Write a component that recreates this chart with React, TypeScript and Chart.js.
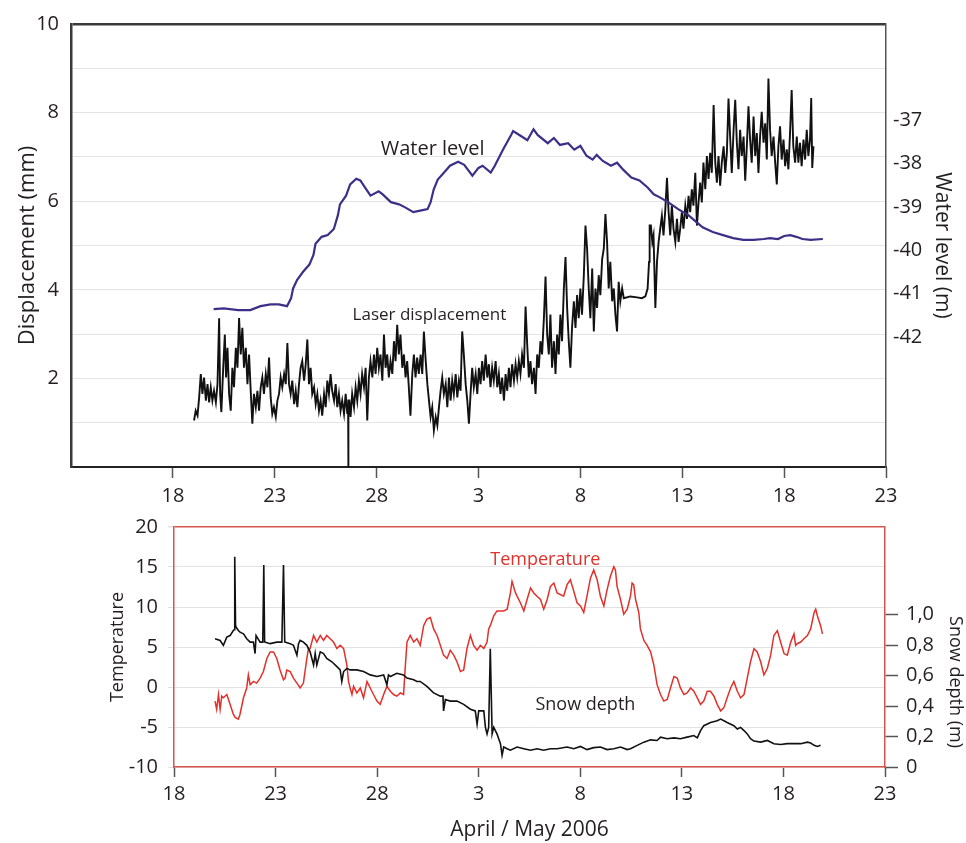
import React, { useEffect, useRef } from "react";
import { Chart, registerables } from "chart.js";

Chart.register(...registerables);

const FONT = "'Open Sans', 'Noto Sans', sans-serif";
const INK = "#231f20";
const FRAME_RED = "#d9534f";
const TEMP_RED = "#e2312b";
const WATER_BLUE = "#3b3088";

// x values are days counted from 0 April 2006 (1 May = 31)
const X_TICKS = [18, 23, 28, 33, 38, 43, 48, 53];
const X_TICK_LABELS = ["18", "23", "28", "3", "8", "13", "18", "23"];

const DISP_TICKS = [0, 1, 2, 3, 4, 5, 6, 7, 8, 9, 10];
const DISP_TICK_LABELS = ["", "", "2", "", "4", "", "6", "", "8", "", "10"];
const WL_TICKS = [-42, -41, -40, -39, -38, -37];
const WL_TICK_LABELS = ["-42", "-41", "-40", "-39", "-38", "-37"];
const TEMP_TICKS = [-10, -5, 0, 5, 10, 15, 20];
const TEMP_TICK_LABELS = ["-10", "-5", "0", "5", "10", "15", "20"];
const SNOW_TICKS = [0, 0.2, 0.4, 0.6, 0.8, 1.0];
const SNOW_TICK_LABELS = ["0", "0,2", "0,4", "0,6", "0,8", "1,0"];

// Water level (m)
const wlDays = [20.0, 20.5, 21.2, 21.8, 22.3, 22.8, 23.2, 23.6, 23.8, 23.9, 24.1, 24.4, 24.7, 24.9, 25.0, 25.3, 25.6, 25.9, 26.1, 26.2, 26.5, 26.7, 27.0, 27.2, 27.5, 27.7, 28.1, 28.3, 28.7, 29.1, 29.4, 29.8, 30.2, 30.5, 30.65, 30.8, 31.0, 31.3, 31.6, 32.0, 32.3, 32.7, 33.0, 33.2, 33.6, 33.8, 34.2, 34.6, 34.7, 35.1, 35.4, 35.7, 35.9, 36.4, 36.7, 37.0, 37.4, 37.7, 38.0, 38.3, 38.6, 38.8, 39.1, 39.5, 39.8, 40.1, 40.5, 40.9, 41.3, 41.6, 41.9, 42.3, 42.8, 43.3, 43.7, 44.0, 44.5, 45.0, 45.5, 46.0, 46.5, 47.0, 47.3, 47.7, 48.0, 48.3, 48.6, 48.9, 49.3, 49.9];
const wlLevel = [-41.36, -41.34, -41.38, -41.38, -41.29, -41.25, -41.25, -41.29, -41.11, -40.88, -40.68, -40.49, -40.33, -40.11, -39.85, -39.69, -39.65, -39.51, -39.19, -38.94, -38.74, -38.48, -38.35, -38.39, -38.6, -38.74, -38.64, -38.71, -38.89, -38.94, -39.01, -39.12, -39.08, -39.05, -38.89, -38.6, -38.37, -38.21, -38.05, -37.96, -38.03, -38.28, -38.1, -38.05, -38.21, -38.05, -37.68, -37.34, -37.25, -37.37, -37.46, -37.21, -37.34, -37.53, -37.41, -37.57, -37.53, -37.68, -37.59, -37.82, -37.91, -37.8, -37.94, -38.05, -37.98, -38.14, -38.32, -38.39, -38.55, -38.71, -38.78, -38.89, -39.05, -39.19, -39.35, -39.47, -39.58, -39.65, -39.72, -39.76, -39.76, -39.74, -39.72, -39.74, -39.67, -39.65, -39.69, -39.74, -39.76, -39.74];

// Laser displacement (mm)
const laserDays = [19.04, 19.12, 19.21, 19.29, 19.37, 19.45, 19.53, 19.62, 19.7, 19.78, 19.86, 19.94, 20.02, 20.11, 20.19, 20.27, 20.32, 20.38, 20.47, 20.55, 20.61, 20.68, 20.76, 20.84, 20.92, 21.0, 21.09, 21.17, 21.25, 21.33, 21.41, 21.49, 21.58, 21.66, 21.74, 21.82, 21.9, 21.98, 22.07, 22.15, 22.23, 22.31, 22.39, 22.47, 22.56, 22.64, 22.72, 22.8, 22.88, 22.96, 23.05, 23.13, 23.21, 23.29, 23.37, 23.46, 23.54, 23.62, 23.7, 23.78, 23.86, 23.95, 24.03, 24.11, 24.19, 24.27, 24.35, 24.44, 24.52, 24.6, 24.68, 24.76, 24.84, 24.93, 25.01, 25.09, 25.17, 25.25, 25.33, 25.42, 25.5, 25.58, 25.66, 25.74, 25.82, 25.91, 25.99, 26.07, 26.15, 26.23, 26.31, 26.4, 26.48, 26.56, 26.6, 26.61, 26.62, 26.66, 26.72, 26.8, 26.89, 26.97, 27.05, 27.13, 27.21, 27.29, 27.38, 27.46, 27.54, 27.62, 27.7, 27.79, 27.87, 27.95, 28.03, 28.11, 28.19, 28.28, 28.36, 28.44, 28.52, 28.6, 28.68, 28.77, 28.85, 28.93, 29.01, 29.09, 29.17, 29.26, 29.34, 29.42, 29.5, 29.58, 29.66, 29.75, 29.83, 29.91, 29.99, 30.07, 30.16, 30.24, 30.32, 30.41, 30.49, 30.57, 30.65, 30.73, 30.81, 30.9, 30.98, 31.06, 31.14, 31.22, 31.3, 31.39, 31.47, 31.55, 31.63, 31.71, 31.79, 31.88, 31.96, 32.04, 32.12, 32.2, 32.28, 32.37, 32.45, 32.53, 32.61, 32.69, 32.77, 32.86, 32.94, 33.02, 33.1, 33.18, 33.26, 33.35, 33.43, 33.51, 33.59, 33.67, 33.75, 33.84, 33.92, 34.0, 34.08, 34.16, 34.25, 34.33, 34.41, 34.49, 34.57, 34.65, 34.74, 34.82, 34.9, 34.98, 35.06, 35.14, 35.23, 35.31, 35.39, 35.47, 35.55, 35.63, 35.72, 35.8, 35.88, 35.96, 36.04, 36.12, 36.21, 36.29, 36.37, 36.45, 36.53, 36.61, 36.7, 36.78, 36.86, 36.94, 37.02, 37.1, 37.19, 37.27, 37.35, 37.43, 37.51, 37.59, 37.68, 37.76, 37.84, 37.92, 38.0, 38.08, 38.17, 38.25, 38.33, 38.41, 38.49, 38.58, 38.66, 38.74, 38.82, 38.9, 38.98, 39.07, 39.15, 39.23, 39.31, 39.39, 39.47, 39.56, 39.64, 39.72, 39.8, 39.88, 39.96, 40.05, 40.13, 40.45, 40.78, 41.02, 41.19, 41.3, 41.37, 41.4, 41.46, 41.53, 41.59, 41.68, 41.76, 41.84, 41.92, 42.0, 42.08, 42.17, 42.25, 42.33, 42.41, 42.49, 42.57, 42.66, 42.74, 42.82, 42.9, 42.98, 43.06, 43.15, 43.23, 43.31, 43.39, 43.47, 43.55, 43.64, 43.72, 43.8, 43.88, 43.96, 44.04, 44.13, 44.21, 44.29, 44.37, 44.45, 44.54, 44.62, 44.7, 44.78, 44.86, 44.94, 45.03, 45.11, 45.19, 45.27, 45.35, 45.43, 45.52, 45.6, 45.68, 45.76, 45.84, 45.92, 46.01, 46.09, 46.17, 46.25, 46.33, 46.41, 46.5, 46.58, 46.66, 46.74, 46.82, 46.9, 46.99, 47.07, 47.15, 47.23, 47.31, 47.39, 47.48, 47.56, 47.64, 47.72, 47.8, 47.88, 47.97, 48.05, 48.13, 48.21, 48.29, 48.37, 48.45, 48.54, 48.62, 48.7, 48.78, 48.86, 48.95, 49.03, 49.11, 49.19, 49.27, 49.33, 49.38, 49.44];
const laserMm = [1.05, 1.27, 1.16, 1.57, 2.1, 1.65, 2.02, 1.5, 1.87, 1.46, 1.8, 1.5, 1.72, 1.46, 1.87, 3.36, 1.65, 1.24, 2.24, 2.99, 2.02, 2.69, 1.65, 1.27, 2.24, 1.8, 2.69, 2.24, 3.36, 2.54, 3.14, 2.24, 2.69, 1.87, 2.54, 1.72, 0.98, 1.65, 1.35, 1.72, 1.27, 1.8, 2.02, 1.65, 2.1, 1.8, 2.47, 1.57, 1.2, 1.35, 1.13, 1.5, 1.65, 2.02, 1.8, 2.1, 1.87, 2.8, 1.87, 1.65, 1.95, 1.42, 1.72, 1.35, 1.87, 2.24, 2.39, 1.95, 2.32, 2.88, 1.87, 2.24, 1.65, 1.8, 1.42, 1.65, 1.27, 1.5, 1.16, 1.65, 1.35, 1.95, 1.65, 2.1, 1.72, 1.5, 1.87, 1.35, 1.65, 1.27, 1.5, 1.2, 1.65, 1.2, 1.4, 0.0, 1.5, 1.5, 1.13, 1.65, 1.35, 1.8, 1.5, 1.95, 1.65, 2.1, 1.8, 2.24, 1.05, 2.02, 2.39, 2.02, 2.54, 2.1, 2.69, 2.24, 2.54, 1.95, 2.99, 2.24, 2.54, 2.02, 2.39, 2.1, 2.84, 2.39, 3.21, 2.54, 2.99, 2.24, 2.54, 2.02, 2.39, 1.8, 1.16, 2.1, 2.54, 2.02, 2.47, 2.1, 2.54, 2.1, 3.06, 2.39, 1.87, 1.5, 1.13, 1.35, 0.83, 1.13, 0.94, 1.35, 1.72, 2.02, 1.65, 1.87, 1.35, 2.02, 1.5, 1.95, 1.65, 2.1, 1.57, 1.95, 1.72, 3.06, 2.54, 1.87, 1.5, 0.98, 1.65, 2.24, 1.8, 2.1, 1.65, 2.24, 1.87, 2.39, 1.95, 2.54, 2.02, 2.32, 1.8, 2.24, 1.95, 2.39, 1.8, 2.1, 1.65, 2.02, 1.5, 2.1, 1.72, 2.24, 1.8, 2.32, 1.95, 2.32, 2.02, 2.39, 2.1, 2.54, 2.24, 3.62, 2.77, 2.02, 2.39, 1.87, 2.24, 1.65, 2.54, 2.24, 2.84, 2.54, 3.36, 4.3, 2.99, 2.54, 3.44, 2.24, 2.84, 2.1, 2.99, 2.54, 3.44, 2.84, 4.03, 4.74, 3.59, 2.84, 2.24, 3.14, 3.74, 3.14, 3.88, 3.36, 4.03, 3.44, 4.33, 5.45, 4.93, 4.03, 3.36, 4.48, 3.06, 4.03, 3.59, 4.33, 3.88, 4.7, 4.93, 5.71, 5.08, 4.03, 4.63, 3.74, 4.03, 3.44, 3.06, 4.18, 3.74, 4.03, 3.81, 3.85, 3.83, 3.81, 3.85, 4.03, 4.63, 5.45, 5.45, 5.08, 5.23, 3.59, 4.63, 5.08, 5.38, 5.67, 5.23, 5.82, 6.53, 5.75, 5.23, 5.9, 5.38, 5.08, 5.6, 5.08, 5.38, 5.75, 5.38, 5.9, 5.6, 6.12, 5.75, 6.27, 5.9, 6.64, 5.45, 5.97, 6.42, 5.97, 6.87, 6.27, 7.02, 6.5, 7.09, 6.64, 8.17, 6.87, 6.42, 7.02, 6.35, 6.87, 7.24, 6.64, 7.09, 8.32, 7.46, 6.64, 7.61, 8.29, 7.32, 6.72, 7.61, 7.02, 7.46, 6.46, 7.24, 8.14, 7.39, 6.87, 7.91, 7.02, 7.54, 6.64, 7.46, 8.02, 7.32, 7.76, 6.94, 8.77, 7.61, 7.02, 7.46, 6.87, 6.38, 7.24, 7.69, 6.94, 7.39, 6.79, 7.17, 6.72, 7.54, 8.51, 7.24, 6.87, 7.46, 6.87, 7.32, 6.79, 7.39, 6.94, 7.61, 7.02, 7.39, 8.33, 6.75, 7.24];

// Temperature (°C)
const tempDays = [20.02, 20.1, 20.19, 20.27, 20.35, 20.43, 20.6, 20.76, 20.92, 21.01, 21.17, 21.25, 21.42, 21.58, 21.66, 21.75, 21.91, 22.07, 22.24, 22.4, 22.57, 22.73, 22.9, 23.06, 23.22, 23.39, 23.47, 23.55, 23.72, 23.88, 24.05, 24.21, 24.37, 24.54, 24.62, 24.7, 24.87, 25.03, 25.2, 25.36, 25.52, 25.69, 25.85, 26.02, 26.18, 26.35, 26.51, 26.59, 26.67, 26.76, 26.84, 27.0, 27.17, 27.33, 27.5, 27.66, 27.82, 27.99, 28.15, 28.32, 28.48, 28.65, 28.81, 28.97, 29.14, 29.3, 29.38, 29.47, 29.63, 29.8, 29.96, 30.12, 30.29, 30.45, 30.62, 30.78, 30.95, 31.11, 31.27, 31.44, 31.6, 31.77, 31.93, 32.1, 32.26, 32.42, 32.59, 32.75, 32.92, 33.08, 33.25, 33.41, 33.49, 33.57, 33.74, 33.9, 34.23, 34.4, 34.56, 34.64, 34.81, 35.05, 35.22, 35.38, 35.55, 35.71, 35.87, 36.04, 36.2, 36.37, 36.53, 36.7, 36.86, 37.18, 37.35, 37.51, 37.68, 37.84, 38.01, 38.17, 38.33, 38.5, 38.66, 38.83, 38.99, 39.16, 39.32, 39.48, 39.65, 39.73, 39.81, 39.98, 40.14, 40.31, 40.47, 40.55, 40.63, 40.72, 40.88, 40.96, 41.13, 41.29, 41.46, 41.62, 41.78, 41.95, 42.11, 42.28, 42.44, 42.61, 42.77, 42.93, 43.1, 43.26, 43.43, 43.59, 43.76, 43.92, 44.08, 44.25, 44.41, 44.58, 44.74, 44.91, 45.07, 45.23, 45.4, 45.56, 45.73, 45.89, 46.06, 46.22, 46.38, 46.55, 46.71, 46.88, 47.04, 47.21, 47.37, 47.53, 47.7, 47.86, 48.03, 48.19, 48.36, 48.52, 48.6, 48.68, 48.85, 49.01, 49.18, 49.34, 49.51, 49.59, 49.67, 49.83, 49.92];
const tempC = [-1.76, -2.78, -0.94, -2.78, -1.15, -1.35, -0.94, -2.17, -3.4, -3.81, -4.01, -3.4, -1.35, -0.12, 1.52, 0.29, 0.7, 0.49, 1.11, 1.93, 3.57, 4.39, 4.39, 3.57, 2.13, 0.9, 1.11, 2.13, 1.93, 1.11, 0.49, -0.12, 0.49, 3.57, 4.8, 4.8, 6.44, 5.62, 6.44, 5.82, 6.44, 6.03, 5.62, 4.8, 5.21, 4.8, 2.75, 0.7, -0.12, -0.94, 0.08, -0.74, -0.12, -1.35, 0.7, -0.12, -0.94, -1.76, -2.17, -0.94, 0.08, -0.53, -0.94, -1.15, -0.74, -0.94, 2.34, 5.62, 6.44, 5.62, 6.03, 5.21, 7.67, 8.49, 8.69, 7.26, 6.44, 5.21, 3.98, 3.57, 4.59, 3.98, 3.16, 1.93, 2.13, 4.8, 6.44, 5.21, 4.59, 5.21, 4.8, 5.62, 7.26, 7.67, 8.9, 9.51, 9.51, 9.72, 11.76, 13.2, 11.76, 10.53, 9.51, 10.94, 12.38, 11.76, 11.35, 10.94, 9.72, 10.94, 12.58, 12.99, 11.76, 11.35, 12.79, 13.4, 11.97, 10.53, 10.13, 9.31, 11.35, 13.61, 14.63, 13.4, 11.35, 10.13, 12.17, 13.81, 15.04, 14.63, 12.58, 10.94, 9.1, 9.72, 11.35, 12.99, 12.79, 10.94, 9.31, 7.26, 5.82, 5.21, 4.39, 2.75, 0.29, -0.94, -1.76, -1.56, -0.12, 1.31, 1.11, -0.12, -0.94, -0.74, -0.12, -0.53, -1.35, -2.17, -1.76, -0.53, -0.53, -1.15, -2.17, -2.99, -2.58, -1.35, -0.12, 0.7, -0.53, -1.35, -0.94, 1.11, 3.16, 4.8, 4.39, 3.16, 1.52, 2.34, 3.98, 6.44, 7.05, 5.62, 4.18, 3.98, 5.62, 6.64, 5.21, 5.41, 5.62, 6.03, 6.44, 7.26, 9.31, 9.72, 8.9, 7.67, 6.64];

// Snow depth (m)
const snowDays = [20.02, 20.27, 20.43, 20.6, 20.76, 20.92, 20.96, 20.99, 21.03, 21.06, 21.17, 21.25, 21.42, 21.58, 21.75, 21.91, 21.99, 22.04, 22.24, 22.37, 22.42, 22.46, 22.73, 23.06, 23.31, 23.39, 23.45, 23.72, 23.88, 24.05, 24.13, 24.21, 24.37, 24.54, 24.7, 24.87, 24.95, 25.03, 25.2, 25.36, 25.52, 25.77, 26.02, 26.18, 26.26, 26.35, 26.51, 26.67, 27.0, 27.33, 27.66, 27.99, 28.32, 28.48, 28.56, 28.65, 28.97, 29.3, 29.47, 29.8, 29.96, 30.12, 30.45, 30.78, 31.11, 31.24, 31.27, 31.36, 31.6, 31.93, 32.26, 32.59, 32.83, 32.92, 33.0, 33.25, 33.33, 33.41, 33.49, 33.57, 33.66, 33.74, 33.9, 34.07, 34.15, 34.23, 34.4, 34.56, 34.89, 35.22, 35.55, 35.87, 36.2, 36.53, 36.86, 37.35, 37.68, 38.01, 38.33, 38.66, 38.99, 39.32, 39.65, 39.98, 40.31, 40.47, 40.8, 41.13, 41.46, 41.78, 41.95, 42.28, 42.61, 42.93, 43.26, 43.59, 43.76, 43.92, 44.08, 44.41, 44.74, 44.91, 45.07, 45.23, 45.56, 45.73, 45.89, 46.06, 46.22, 46.38, 46.55, 46.88, 47.21, 47.53, 47.86, 48.19, 48.52, 48.85, 49.18, 49.34, 49.51, 49.67, 49.83];
const snowM = [0.841, 0.83, 0.798, 0.852, 0.862, 0.895, 0.9, 1.379, 0.93, 0.916, 0.895, 0.884, 0.873, 0.841, 0.819, 0.819, 0.744, 0.862, 0.819, 0.819, 1.325, 0.82, 0.809, 0.819, 0.819, 1.325, 0.82, 0.809, 0.798, 0.733, 0.809, 0.83, 0.819, 0.798, 0.755, 0.669, 0.744, 0.669, 0.755, 0.744, 0.712, 0.69, 0.658, 0.637, 0.561, 0.626, 0.647, 0.637, 0.637, 0.626, 0.604, 0.594, 0.604, 0.54, 0.604, 0.594, 0.615, 0.604, 0.583, 0.572, 0.561, 0.561, 0.529, 0.486, 0.465, 0.465, 0.368, 0.443, 0.432, 0.432, 0.411, 0.379, 0.368, 0.282, 0.368, 0.368, 0.26, 0.217, 0.26, 0.776, 0.217, 0.26, 0.217, 0.153, 0.077, 0.131, 0.12, 0.11, 0.131, 0.12, 0.11, 0.12, 0.11, 0.12, 0.12, 0.131, 0.12, 0.135, 0.114, 0.127, 0.131, 0.114, 0.12, 0.131, 0.114, 0.12, 0.142, 0.163, 0.178, 0.174, 0.196, 0.185, 0.191, 0.185, 0.196, 0.206, 0.191, 0.239, 0.271, 0.292, 0.303, 0.314, 0.303, 0.292, 0.271, 0.249, 0.26, 0.239, 0.217, 0.185, 0.17, 0.163, 0.174, 0.153, 0.148, 0.153, 0.153, 0.153, 0.163, 0.157, 0.142, 0.135, 0.142];

const pts = (xs: number[], ys: number[]) => xs.map((x, i) => ({ x, y: ys[i] }));
const setTicks = (values: number[]) => (s: any) => {
  s.ticks = values.map((v) => ({ value: v }));
};
const labelFrom = (labels: string[]) => (_v: any, i: number) => labels[i];

type Note = { text: string; x: number; y: number; axis: string; color: string; size: number; rotate?: boolean };
const notesPlugin = (notes: Note[]) => ({
  id: "notes",
  afterDatasetsDraw(chart: any) {
    const { ctx, scales } = chart;
    ctx.save();
    for (const n of notes) {
      ctx.font = `${n.size}px ${FONT}`;
      ctx.fillStyle = n.color;
      ctx.textBaseline = "middle";
      const px = n.axis === "page" ? n.x : scales.x.getPixelForValue(n.x);
      const py = n.axis === "page" ? n.y : scales[n.axis].getPixelForValue(n.y);
      if (n.rotate) {
        ctx.translate(px, py);
        ctx.rotate(Math.PI / 2);
        ctx.textAlign = "center";
        ctx.fillText(n.text, 0, 0);
        ctx.setTransform(1, 0, 0, 1, 0, 0);
      } else {
        ctx.textAlign = "left";
        ctx.fillText(n.text, px, py);
      }
    }
    ctx.restore();
  },
});

const TOP_W = 966;
const TOP_H = 512;
const BOT_H = 338;
const BOT_OFFSET = 505;

export default function App() {
  const topRef = useRef<HTMLCanvasElement>(null);
  const botRef = useRef<HTMLCanvasElement>(null);

  useEffect(() => {
    Chart.defaults.font.family = FONT;
    Chart.defaults.color = INK;
    const tickFont = { family: FONT, size: 20 };

    const top = new Chart(topRef.current as HTMLCanvasElement, {
      type: "line",
      data: {
        datasets: [
          { label: "Water level", data: pts(wlDays, wlLevel), yAxisID: "yR", borderColor: WATER_BLUE, borderWidth: 2.2, pointRadius: 0, tension: 0 },
          { label: "Laser displacement", data: pts(laserDays, laserMm), yAxisID: "y", borderColor: "#111111", borderWidth: 1.9, pointRadius: 0, tension: 0 },
        ],
      },
      options: {
        responsive: false,
        animation: false,
        events: [],
        layout: { padding: { top: 20, left: 0, right: 0, bottom: 0 } },
        plugins: { legend: { display: false }, tooltip: { enabled: false } },
        scales: {
          x: {
            type: "linear",
            min: 13,
            max: 53,
            afterBuildTicks: setTicks(X_TICKS),
            afterFit: (s: any) => { s.height = TOP_H - 467; },
            ticks: { callback: labelFrom(X_TICK_LABELS), font: tickFont, color: INK, padding: 6, maxRotation: 0, autoSkip: false },
            grid: { drawOnChartArea: false, drawTicks: true, tickLength: 11, tickColor: "#555", tickWidth: 1.5 },
            border: { color: "#222", width: 2 },
          },
          y: {
            type: "linear",
            min: 0,
            max: 10,
            afterBuildTicks: setTicks(DISP_TICKS),
            afterFit: (s: any) => { s.width = 71; },
            ticks: { callback: labelFrom(DISP_TICK_LABELS), font: tickFont, color: INK, padding: 12, autoSkip: false },
            grid: {
              drawTicks: false,
              color: (c: any) => (c.tick && c.tick.value === 10 ? "#3a3a3a" : "#e4e4e4"),
              lineWidth: (c: any) => (c.tick && c.tick.value === 10 ? 2.5 : 1),
            },
            border: { color: "#3a3a3a", width: 2.5 },
            title: { display: true, text: "Displacement (mm)", font: { family: FONT, size: 22 }, color: INK, padding: { top: 15, bottom: 0 } },
          },
          yR: {
            type: "linear",
            position: "right",
            min: -45,
            max: -34.78,
            afterBuildTicks: setTicks(WL_TICKS),
            afterFit: (s: any) => { s.width = TOP_W - 886; },
            ticks: { callback: labelFrom(WL_TICK_LABELS), font: tickFont, color: INK, padding: 7, autoSkip: false },
            grid: { drawOnChartArea: false, drawTicks: false },
            border: { color: "#555", width: 1.5 },
            title: { display: true, text: "Water level (m)", font: { family: FONT, size: 21 }, color: INK, padding: { top: 11, bottom: 0 } },
          },
        },
      } as any,
      plugins: [
        notesPlugin([
          { text: "Water level", x: 28.2, y: 7.18, axis: "y", color: INK, size: 20 },
          { text: "Laser displacement", x: 26.82, y: 3.42, axis: "y", color: INK, size: 17 },
        ]),
      ],
    });

    const bot = new Chart(botRef.current as HTMLCanvasElement, {
      type: "line",
      data: {
        datasets: [
          { label: "Snow depth", data: pts(snowDays, snowM), yAxisID: "yR", borderColor: "#111111", borderWidth: 1.6, pointRadius: 0, tension: 0 },
          { label: "Temperature", data: pts(tempDays, tempC), yAxisID: "y", borderColor: TEMP_RED, borderWidth: 1.5, pointRadius: 0, tension: 0 },
        ],
      },
      options: {
        responsive: false,
        animation: false,
        events: [],
        layout: { padding: { top: 523 - BOT_OFFSET, left: 0, right: 0, bottom: 0 } },
        plugins: { legend: { display: false }, tooltip: { enabled: false } },
        scales: {
          x: {
            type: "linear",
            min: 18,
            max: 53,
            afterBuildTicks: setTicks(X_TICKS),
            afterFit: (s: any) => { s.height = BOT_H - (767 - BOT_OFFSET); },
            ticks: { callback: labelFrom(X_TICK_LABELS), font: tickFont, color: INK, padding: 5, maxRotation: 0, autoSkip: false },
            grid: { drawOnChartArea: false, drawTicks: true, tickLength: 10, tickColor: "#555", tickWidth: 1.5 },
            border: { color: FRAME_RED, width: 1.5 },
            title: { display: true, text: "April / May 2006", font: { family: FONT, size: 21 }, color: INK, padding: { top: 0, bottom: 0 } },
          },
          y: {
            type: "linear",
            min: -10,
            max: 20,
            afterBuildTicks: setTicks(TEMP_TICKS),
            afterFit: (s: any) => { s.width = 174; },
            ticks: { callback: labelFrom(TEMP_TICK_LABELS), font: tickFont, color: INK, padding: 10, autoSkip: false },
            grid: {
              drawTicks: true,
              tickLength: 6,
              tickColor: "#e2e2e2",
              color: (c: any) => (c.tick && c.tick.value === 20 ? FRAME_RED : "#e2e2e2"),
              lineWidth: (c: any) => (c.tick && c.tick.value === 20 ? 1.5 : 1),
            },
            border: { color: FRAME_RED, width: 1.5 },
            title: { display: true, text: "Temperature", font: { family: FONT, size: 18 }, color: INK, padding: { top: 107, bottom: 0 } },
          },
          yR: {
            type: "linear",
            position: "right",
            min: 0,
            max: 1.574,
            afterBuildTicks: setTicks(SNOW_TICKS),
            afterFit: (s: any) => { s.width = TOP_W - 885; },
            ticks: { callback: labelFrom(SNOW_TICK_LABELS), font: tickFont, color: INK, padding: 8, autoSkip: false },
            grid: { drawOnChartArea: false, drawTicks: true, tickLength: 13, tickColor: "#555", tickWidth: 1.5 },
            border: { color: FRAME_RED, width: 1.5 },
          },
        },
      } as any,
      plugins: [
        notesPlugin([
          { text: "Temperature", x: 33.57, y: 15.94, axis: "y", color: TEMP_RED, size: 18 },
          { text: "Snow depth", x: 35.79, y: -2.25, axis: "y", color: INK, size: 18 },
          { text: "Snow depth (m)", x: 955, y: 682 - BOT_OFFSET, axis: "page", color: INK, size: 18, rotate: true },
        ]),
      ],
    });

    return () => {
      top.destroy();
      bot.destroy();
    };
  }, []);

  return (
    <div style={{ position: "absolute", left: 0, top: 0, width: 966, height: 843, background: "#ffffff", overflow: "hidden" }}>
      <canvas ref={topRef} width={TOP_W} height={TOP_H} style={{ position: "absolute", left: 0, top: 0, display: "block" }} />
      <canvas ref={botRef} width={TOP_W} height={BOT_H} style={{ position: "absolute", left: 0, top: BOT_OFFSET, display: "block" }} />
    </div>
  );
}
